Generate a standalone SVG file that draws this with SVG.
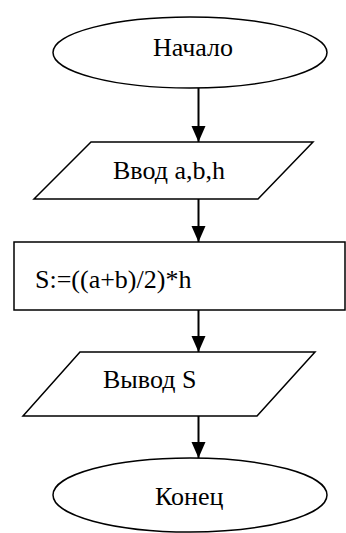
<svg xmlns="http://www.w3.org/2000/svg" width="346" height="533" viewBox="0 0 346 533">
<style>
.s{fill:#fff;stroke:#000;stroke-width:1.5}
.t{font-size:26px;fill:#000}
.c{stroke:#000;stroke-width:2;fill:none}
</style>
<defs>
<marker id="a" markerUnits="userSpaceOnUse" markerWidth="16" markerHeight="16" refX="16" refY="7" orient="auto">
<path d="M0,0 L16,7 L0,14 Z" fill="#000"/>
</marker>
</defs>
<rect width="346" height="533" fill="#fff"/>
<g font-family="Liberation Serif, serif">
<g id="start"><ellipse class="s" cx="190" cy="52.5" rx="137" ry="35.5"/><text class="t" x="153" y="56">Начало</text></g>
<g id="input"><polygon class="s" points="91,142 313,142 258,199 34,199"/><text class="t" x="113" y="179">Ввод a,b,h</text></g>
<g id="calc"><rect class="s" x="14" y="242" width="331" height="68"/><text class="t" x="35" y="288">S:=((a+b)/2)*h</text></g>
<g id="output"><polygon class="s" points="80,352 315,352 257,416 23,416"/><text class="t" x="103" y="388">Вывод S</text></g>
<g id="end"><ellipse class="s" cx="190" cy="495" rx="137" ry="37"/><text class="t" x="155" y="505">Конец</text></g>
</g>
<g id="connectors">
<line class="c" x1="198.5" y1="88" x2="198.5" y2="142" marker-end="url(#a)"/>
<line class="c" x1="198.5" y1="199" x2="198.5" y2="242" marker-end="url(#a)"/>
<line class="c" x1="198.5" y1="310" x2="198.5" y2="352" marker-end="url(#a)"/>
<line class="c" x1="198.5" y1="416" x2="198.5" y2="458" marker-end="url(#a)"/>
</g>
</svg>
